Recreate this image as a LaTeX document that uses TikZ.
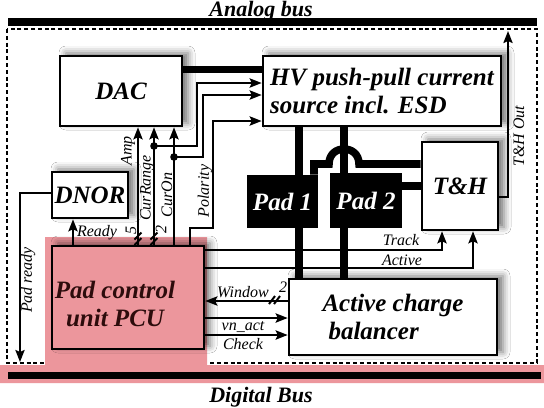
\documentclass[tikz,border=0pt]{standalone}
\usepackage{fontspec}
\setmainfont{Liberation Serif}
\usetikzlibrary{arrows.meta,shadows.blur}
\definecolor{pcupink}{RGB}{236,150,156}
\definecolor{pcutext}{RGB}{45,12,12}
\tikzset{
  blk/.style={draw=black,line width=1.3pt,fill=white,inner sep=0pt,align=left,
    font=\fontsize{12.5}{14}\selectfont\bfseries\itshape},
  shd/.style={blur shadow={shadow xshift=3pt,shadow yshift=1.5pt,shadow blur radius=3.5pt,shadow opacity=55}},
  sig/.style={line width=1pt},
  arr/.style={sig,-{Stealth[length=6pt,width=4.6pt,inset=1pt]}},
  bar/.style={line width=3.6pt},
  lbl/.style={font=\fontsize{8}{9}\selectfont\itshape,inner sep=0pt},
  ttl/.style={font=\fontsize{11}{12}\selectfont\bfseries\itshape,inner sep=0pt,anchor=base},
  padbox/.style={fill=black,inner sep=0pt,text=white,font=\fontsize{12.5}{14}\selectfont\bfseries\itshape},
  jdot/.style={circle,fill=black,inner sep=0pt,minimum size=3.8pt},
  slash/.style={line width=1pt},
}
\begin{document}
\begin{tikzpicture}[x={(0.5pt,0)},y={(0,-0.5pt)}]
\useasboundingbox (0,0) rectangle (544,407);
\fill[white] (0,0) rectangle (544,407);

% dashed frame
\draw[line width=1.1pt,dash pattern=on 2pt off 1.4pt] (7,29) rectangle (537,363);

% pink PCU area and digital bus band
\fill[pcupink] (45,237) -- (207,237) -- (207,365) -- (544,365) -- (544,383)
  -- (0,383) -- (0,365) -- (45,365) -- cycle;

% buses
\draw[line width=4pt] (8,22) -- (537,22);
\draw[bar] (8,375.5) -- (541,375.5);
\node[ttl] (abus) at (261,16) {Analog bus};
\node[ttl] (dbus) at (261,402) {Digital Bus};

% boxes
\node[blk,shd,minimum width=61pt,minimum height=35pt] (DAC) at (121,91) {DAC};
\node[blk,shd,minimum width=119pt,minimum height=35pt] (HV) at (382,91) {HV push-pull current\\source incl. ESD};
\node[blk,shd,minimum width=38pt,minimum height=23pt] (DNOR) at (90,195) {DNOR};
\node[blk,shd,fill=pcupink,minimum width=76pt,minimum height=51.5pt] (PCU) at (128,297.5) {};
\node[inner sep=0pt,align=center,text=pcutext,font=\fontsize{12.5}{14}\selectfont\bfseries\itshape] (PCUt) at (115,304) {Pad control\\unit PCU};
\node[blk,shd,minimum width=38pt,minimum height=44pt] (TH) at (460,186) {T\&H};
\node[blk,shd,minimum width=104pt,minimum height=38pt] (ACB) at (393,317) {Active charge\\\hspace*{3pt}balancer};

% thin signals
\draw[arr] (138,0 |- PCU.north) -- (138,0 |- DAC.south);
\draw[arr] (154,0 |- PCU.north) -- (154,0 |- DAC.south);
\draw[arr] (174,0 |- PCU.north) -- (174,0 |- DAC.south);
\node[jdot] (j1) at (154,146) {};
\node[jdot] (j2) at (174,157) {};
\draw[arr] (j1.center) -- (197,146) -- (197,83) -- (HV.west |- 0,83);
\draw[arr] (j2.center) -- (203,157) -- (203,95) -- (HV.west |- 0,95);
\draw[arr] (190,0 |- PCU.north) -- (190,228) -- (213,228) -- (213,121) -- (HV.west |- 0,121);
\draw[arr] (73,0 |- PCU.north) -- (73,0 |- DNOR.south);
\coordinate (prend) at (20,362);
\draw[arr] (DNOR.west |- 0,193) -- (20,193) -- (prend);
\draw[arr] (PCU.east |- 0,250) -- (442,250) -- (442,0 |- TH.south);
\draw[arr] (PCU.east |- 0,268) -- (473,268) -- (473,0 |- TH.south);
\coordinate (thout) at (508,31);
\draw[arr] (TH.east |- 0,197) -- (508,197) -- (thout);
\draw[arr] (ACB.west |- 0,301) -- (PCU.east |- 0,301);
\draw[arr] (PCU.east |- 0,318) -- (ACB.west |- 0,318);
\draw[arr] (PCU.east |- 0,335) -- (ACB.west |- 0,335);

% bus width marks
\draw[slash] (134.5,239.5) -- (141.5,232.5) (134.5,245) -- (141.5,238);
\draw[slash] (150.5,239.5) -- (157.5,232.5) (150.5,245) -- (157.5,238);
\draw[slash] (269,304) -- (275,296) (274,304) -- (280,296);

% labels
\node[lbl,rotate=90] (lamp) at (128,151) {Amp};
\node[lbl,rotate=90] (lcr) at (147,188) {CurRange};
\node[lbl,rotate=90] (lco) at (167,195) {CurOn};
\node[lbl,rotate=90] (lpol) at (205,191) {Polarity};
\node[lbl,rotate=90] (l5) at (131,230) {5};
\node[lbl,rotate=90] (l2a) at (161,229) {2};
\node[lbl] (lrdy) at (97,233) {Ready};
\node[lbl,rotate=90] (lpr) at (28,280) {Pad ready};
\node[lbl] (ltr) at (401,240) {Track};
\node[lbl] (lac) at (402,260) {Active};
\node[lbl] (lwin) at (243,292) {Window};
\node[lbl] (l2b) at (283,287) {2};
\node[lbl] (lvn) at (243,327) {vn\_act};
\node[lbl] (lch) at (243,344) {Check};
\node[lbl,rotate=90] (lth) at (519,136) {T\&H Out};

% thick pad lines
\draw[bar,line width=3.8pt] (DAC.east |- 0,69.5) -- (HV.west |- 0,69.5);
\draw[bar,line width=3.8pt] (299,0 |- HV.south) -- (299,0 |- ACB.north);
\draw[bar,line width=3.8pt] (344,0 |- HV.south) -- (344,0 |- ACB.north);

% pads
\node[padbox,minimum width=35.5pt,minimum height=26.5pt] (P1) at (282.5,201.5) {Pad 1};
\node[padbox,minimum width=36pt,minimum height=27.5pt] (P2) at (366,200.5) {Pad 2};

\draw[bar,line width=3.8pt] (314,0 |- P1.north) -- (314,164) -- (329,164)
  .. controls (329,144) and (359,144) .. (359,164) -- (TH.west |- 0,164);
\draw[bar,line width=3.8pt] (P2.east |- 0,186) -- (TH.west |- 0,186);
\end{tikzpicture}
\end{document}
